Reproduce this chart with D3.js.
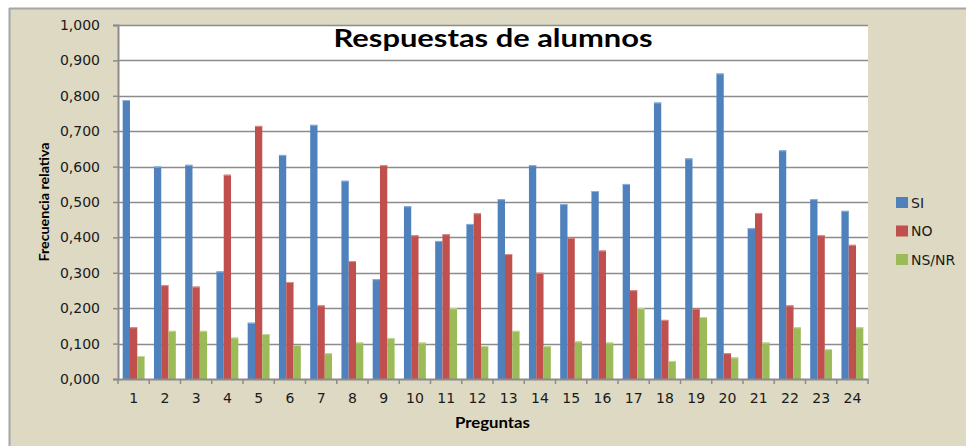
<!DOCTYPE html>
<html>
<head>
<meta charset="utf-8">
<script src="https://cdn.jsdelivr.net/npm/d3@7"></script>
<style>
  html, body { margin: 0; padding: 0; background: #ffffff; }
  svg { display: block; }
</style>
</head>
<body>
<svg id="chart" width="966" height="446"></svg>
<script>
const categories = ["1","2","3","4","5","6","7","8","9","10","11","12","13","14","15","16","17","18","19","20","21","22","23","24"];
const seriesNames = ["SI", "NO", "NS/NR"];
const siValues   = [0.788,0.600,0.605,0.304,0.159,0.633,0.718,0.560,0.282,0.488,0.390,0.438,0.508,0.604,0.494,0.531,0.551,0.781,0.623,0.863,0.426,0.646,0.508,0.475];
const noValues   = [0.146,0.265,0.261,0.577,0.715,0.274,0.208,0.333,0.604,0.406,0.409,0.468,0.353,0.300,0.399,0.363,0.251,0.167,0.199,0.073,0.469,0.208,0.406,0.379];
const nsnrValues = [0.065,0.136,0.136,0.117,0.127,0.096,0.073,0.103,0.116,0.103,0.200,0.093,0.136,0.093,0.106,0.103,0.200,0.051,0.175,0.061,0.103,0.146,0.084,0.146];
const yTicks = [0,0.1,0.2,0.3,0.4,0.5,0.6,0.7,0.8,0.9,1.0];
const colors = ["#4F81BD", "#C0504D", "#9BBB59"];
const edgeColors = ["#8FB0DA", "#DC8E8C", "#C3D99A"];

const seriesValues = [siValues, noValues, nsnrValues];
const svg = d3.select("#chart");

// outer chart area background and frame
svg.append("rect").attr("x", 9).attr("y", 8).attr("width", 960).attr("height", 440)
  .attr("fill", "#DDD9C3");
svg.append("line").attr("x1", 9).attr("x2", 966).attr("y1", 8.5).attr("y2", 8.5)
  .attr("stroke", "#A6A6A6").attr("stroke-width", 2);
svg.append("line").attr("x1", 9.5).attr("x2", 9.5).attr("y1", 8).attr("y2", 446)
  .attr("stroke", "#A6A6A6").attr("stroke-width", 2);

const plot = { left: 118, right: 868, top: 25, bottom: 379 };

svg.append("rect").attr("x", plot.left).attr("y", plot.top)
  .attr("width", plot.right - plot.left).attr("height", plot.bottom - plot.top)
  .attr("fill", "#ffffff");

const x = d3.scaleBand().domain(categories).range([plot.left, plot.right]).paddingInner(0).paddingOuter(0);
const groupW = x.bandwidth() * 0.7;
const xs = d3.scaleBand().domain(seriesNames).range([0, groupW]).padding(0);
const y = d3.scaleLinear().domain([0, 1]).range([plot.bottom, plot.top]);

// gridlines
svg.append("g").selectAll("line").data(yTicks.slice(1)).join("line")
  .attr("x1", plot.left).attr("x2", plot.right)
  .attr("y1", d => Math.round(y(d)) + 0.5).attr("y2", d => Math.round(y(d)) + 0.5)
  .attr("stroke", "#8C8C8C").attr("stroke-width", 1.5);

// bars
const groups = svg.append("g").selectAll("g").data(categories).join("g")
  .attr("transform", c => `translate(${x(c) + (x.bandwidth() - groupW) / 2},0)`);
seriesNames.forEach((s, si) => {
  groups.append("rect")
    .attr("x", xs(s))
    .attr("width", xs.bandwidth())
    .attr("y", (c, i) => y(seriesValues[si][i]))
    .attr("height", (c, i) => plot.bottom - y(seriesValues[si][i]))
    .attr("fill", colors[si]);
  groups.append("rect")
    .attr("x", xs(s))
    .attr("width", xs.bandwidth())
    .attr("y", (c, i) => y(seriesValues[si][i]))
    .attr("height", 1)
    .attr("fill", edgeColors[si]);
});

// y axis
const yAxis = d3.axisLeft(y).tickValues(yTicks).tickSize(5).tickPadding(13)
  .tickFormat(d => d3.format(".3f")(d).replace(".", ","));
const gy = svg.append("g").attr("transform", `translate(${plot.left},0)`).call(yAxis);
gy.select(".domain").attr("stroke", "#8C8C8C").attr("stroke-width", 2);
gy.selectAll(".tick line").attr("stroke", "#8C8C8C").attr("stroke-width", 1.5);
gy.selectAll(".tick text").attr("font-family", "DejaVu Sans").attr("font-size", 14)
  .attr("fill", "#1a1a1a");

// x axis
const xAxis = d3.axisBottom(x).tickSize(0).tickPadding(14);
const gx = svg.append("g").attr("transform", `translate(0,${plot.bottom})`).call(xAxis);
gx.select(".domain").attr("stroke", "#8C8C8C").attr("stroke-width", 2);
gx.selectAll(".tick text").attr("font-family", "DejaVu Sans").attr("font-size", 14)
  .attr("fill", "#1a1a1a");
// category boundary ticks
const bounds = categories.map(c => x(c)).concat([plot.right]);
svg.append("g").selectAll("line").data(bounds).join("line")
  .attr("x1", d => d).attr("x2", d => d)
  .attr("y1", plot.bottom).attr("y2", plot.bottom + 5)
  .attr("stroke", "#8C8C8C").attr("stroke-width", 1.5);

// title
svg.append("text").attr("x", 493).attr("y", 47).attr("text-anchor", "middle")
  .attr("font-family", "Lato").attr("font-weight", "bold").attr("font-size", 25)
  .attr("textLength", 319).attr("lengthAdjust", "spacingAndGlyphs")
  .attr("fill", "#000").text("Respuestas de alumnos");

// axis titles
svg.append("text").attr("transform", "translate(49,202) rotate(-90)")
  .attr("text-anchor", "middle")
  .attr("font-family", "Lato").attr("font-weight", "bold").attr("font-size", 13)
  .attr("textLength", 119).attr("lengthAdjust", "spacingAndGlyphs")
  .attr("fill", "#000").text("Frecuencia relativa");
svg.append("text").attr("x", 492.5).attr("y", 428).attr("text-anchor", "middle")
  .attr("font-family", "Lato").attr("font-weight", "bold").attr("font-size", 15)
  .attr("textLength", 75).attr("lengthAdjust", "spacingAndGlyphs")
  .attr("fill", "#000").text("Preguntas");

// legend
const legend = svg.append("g").selectAll("g").data(seriesNames).join("g")
  .attr("transform", (d, i) => `translate(896,${197 + i * 28.5})`);
legend.append("rect").attr("width", 12).attr("height", 11).attr("fill", (d, i) => colors[i]);
legend.append("text").attr("x", 15).attr("y", 10.5)
  .attr("font-family", "DejaVu Sans").attr("font-size", 14).attr("fill", "#1a1a1a")
  .text(d => d);
</script>
</body>
</html>
